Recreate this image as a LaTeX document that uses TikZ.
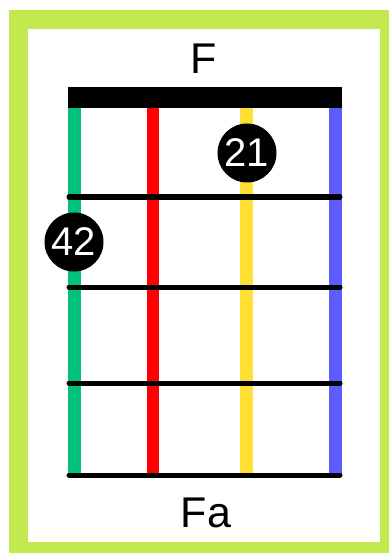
\documentclass[tikz,border=0pt]{standalone}
\usepackage{fontspec}
\setmainfont{Liberation Sans}
\definecolor{framegreen}{RGB}{194,233,80}
\definecolor{stringgreen}{RGB}{0,194,122}
\definecolor{stringred}{RGB}{255,0,0}
\definecolor{stringyellow}{RGB}{255,224,51}
\definecolor{stringblue}{RGB}{92,92,255}
\tikzset{
    fingerdot/.style={circle, fill=black, text=white, minimum size=59pt, inner sep=0pt,
        font=\fontsize{40}{40}\selectfont},
    chordlabel/.style={anchor=base, font=\fontsize{43}{43}\selectfont},
}
\begin{document}
\begin{tikzpicture}[x=1pt,y=-1pt]
    \useasboundingbox (0,0) rectangle (389,553);

    % Frame
    \fill[framegreen] (9,10) rectangle (389,553);
    \fill[white] (28,29) rectangle (380,542);

    % Strings
    \draw[line width=13pt, stringgreen] (74,108) -- (74,475);
    \draw[line width=12pt, stringred] (153,108) -- (153,475);
    \draw[line width=13pt, stringyellow] (246,108) -- (246,475);
    \draw[line width=13pt, stringblue] (335,108) -- (335,475);

    % Frets
    \foreach \y in {197,287,383,475}
        \draw[line width=5pt, line cap=round] (69,\y) -- (340,\y);

    % Nut
    \fill (68,87) rectangle (342,108);

    % Finger positions
    \node[fingerdot] (dot21) at (247,153) {21};
    \node[fingerdot] (dot42) at (74,242) {42};

    % Labels
    \node[chordlabel] (chord) at (204,74) {F};
    \node[chordlabel] (name) at (206,527) {Fa};
\end{tikzpicture}
\end{document}
